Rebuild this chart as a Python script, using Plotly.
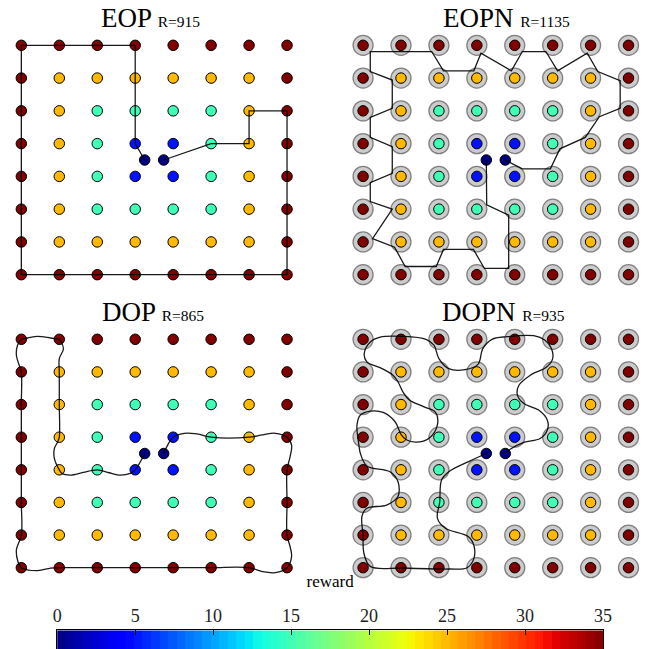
import numpy as np
import plotly.graph_objects as go

# ---------------- data ----------------
GRID_COLS = [0, 1, 2, 3, 4, 5, 6, 7]
GRID_ROWS = [0, 1, 2, 3, 4, 5, 6, 7]
REWARDS = [
    [35, 35, 35, 35, 35, 35, 35, 35],
    [35, 25, 25, 25, 25, 25, 25, 35],
    [35, 25, 15, 15, 15, 15, 25, 35],
    [35, 25, 15, 5, 5, 15, 25, 35],
    [35, 25, 15, 5, 5, 15, 25, 35],
    [35, 25, 15, 15, 15, 15, 25, 35],
    [35, 25, 25, 25, 25, 25, 25, 35],
    [35, 35, 35, 35, 35, 35, 35, 35],
]
START_END_X = [3.25, 3.75]
START_END_Y = [3.5, 3.5]
START_END_REWARD = [0, 0]

PANEL_NAMES = ["EOP", "EOPN", "DOP", "DOPN"]
PANEL_R = [915, 1135, 865, 935]
PANEL_NEIGHBORHOOD = [False, True, False, True]
PANEL_CURVED = [False, False, True, True]

EOP_PATH_X = [3.25, 3, 3, 3, 3, 2, 1, 0, 0, 0, 0, 0, 0, 0, 0, 1, 2, 3, 4, 5, 6, 7,
              7, 7, 7, 7, 7, 6, 6, 5, 3.75]
EOP_PATH_Y = [3.5, 3, 2, 1, 0, 0, 0, 0, 1, 2, 3, 4, 5, 6, 7, 7, 7, 7, 7, 7, 7, 7,
              6, 5, 4, 3, 2, 2, 3, 3, 3.5]

EOPN_PATH_X = [3.25, 3.26, 3.84, 3.84, 3.20, 2.91, 2.12, 1.93, 1.11, 0.83, 0.25, 0.77,
               0.19, 0.19, 0.77, 0.77, 0.19, 0.19, 0.77, 0.77, 0.19, 0.19, 1.81, 2.12,
               2.92, 3.11, 3.91, 4.20, 4.82, 5.13, 5.91, 6.19, 6.78, 6.78, 6.23, 5.86,
               5.19, 4.94, 4.20, 3.75]
EOPN_PATH_Y = [3.5, 4.87, 5.18, 6.81, 6.81, 6.23, 6.23, 6.75, 6.75, 6.16, 5.90, 5.0,
               4.77, 4.19, 3.91, 3.09, 2.81, 2.20, 1.92, 1.06, 0.80, 0.19, 0.19, 0.78,
               0.78, 0.24, 0.78, 0.19, 0.19, 0.78, 0.24, 0.80, 1.08, 1.92, 2.18, 2.81,
               3.16, 3.77, 3.77, 3.5]

DOP_PATH_X = [3.25, 3, 2.87, 2.57, 2.31, 2, 1.63, 1.29, 1.07, 1, 0.87, 0.87, 0.96, 1, 1, 1,
              1, 1.11, 1.04, 1, 0.77, 0.43, 0.17, 0, -0.1, -0.13, -0.04, 0, 0, 0, 0, 0, 0,
              -0.13, -0.09, 0, 0.43, 0.77, 1, 2, 3, 4, 5, 6, 6.35, 6.69, 7, 7.12, 7.08, 7, 7,
              7, 7.08, 7.12, 7, 6.69, 6.35, 6, 5, 4.63, 4.29, 4, 3.75]
DOP_PATH_Y = [3.5, 4, 4.11, 4.16, 4.09, 4, 4.08, 4.16, 4.11, 4, 3.65, 3.35, 3.14, 3, 2, 1,
              0.59, 0.29, 0.06, 0, -0.04, -0.09, -0.04, 0, 0.18, 0.49, 0.85, 1, 2, 3, 4, 5, 6,
              6.45, 6.81, 7, 7.09, 7.01, 7, 7, 7, 7, 7, 7, 7.12, 7.15, 7, 6.66, 6.35, 6, 5,
              4, 3.60, 3.24, 3, 2.88, 2.93, 3, 3, 2.90, 2.88, 3, 3.5]

DOPN_PATH_X = [3.25, 2.78, 2.26, 2.07, 2.02, 1.96, 2.17, 2.78, 2.93, 2.91, 2.73, 2.26, 1.05,
               0.19, 0.02, 0.0, -0.03, 0.10, 0.62, 0.92, 0.92, 0.71, 0.10, -0.07, -0.11,
               -0.16, -0.07, 0.19, 0.53, 0.84, 1.01, 1.14, 1.40, 1.74, 1.96, 1.91, 1.61,
               1.22, 1.05, 0.92, 0.79, 0.45, 0.10, 0.03, 0.19, 0.45, 1.05, 1.66, 1.87, 2.0,
               2.26, 2.69, 3.03, 3.16, 3.40, 3.80, 4.50, 4.80, 4.97, 5.0, 4.84, 4.41, 4.11,
               4.07, 4.24, 4.63, 4.86, 4.86, 4.67, 4.24, 3.89, 3.75]
DOPN_PATH_Y = [3.5, 3.75, 4.06, 4.31, 5.0, 5.48, 5.79, 6.05, 6.35, 6.76, 7.01, 7.04, 7.01,
               6.96, 6.55, 6.0, 5.43, 5.18, 5.08, 4.82, 4.36, 4.06, 3.88, 3.50, 3.24,
               2.62, 2.32, 2.20, 2.24, 2.52, 2.93, 3.08, 3.15, 3.03, 2.62, 2.24, 2.07,
               1.86, 1.61, 1.30, 1.10, 0.87, 0.69, 0.44, 0.08, -0.07, -0.09, 0.0, 0.18, 0.59,
               0.90, 0.93, 0.77, 0.28, 0.0, -0.08, -0.11, 0.03, 0.29, 0.59, 0.85, 1.10, 1.41,
               1.71, 1.97, 2.17, 2.48, 2.78, 3.04, 3.16, 3.36, 3.5]

PATHS_X = [EOP_PATH_X, EOPN_PATH_X, DOP_PATH_X, DOPN_PATH_X]
PATHS_Y = [EOP_PATH_Y, EOPN_PATH_Y, DOP_PATH_Y, DOPN_PATH_Y]

COLORBAR_TICKS = [0, 5, 10, 15, 20, 25, 30, 35]
REWARD_MIN, REWARD_MAX = 0, 35

# matplotlib "jet"
JET = [[0.0, "rgb(0,0,128)"], [0.11, "rgb(0,0,255)"], [0.125, "rgb(0,0,255)"],
       [0.34, "rgb(0,219,255)"], [0.35, "rgb(0,229,247)"], [0.375, "rgb(20,255,226)"],
       [0.64, "rgb(238,255,8)"], [0.65, "rgb(247,245,0)"], [0.66, "rgb(255,236,0)"],
       [0.89, "rgb(255,19,0)"], [0.91, "rgb(232,0,0)"], [1.0, "rgb(128,0,0)"]]

SERIF = "Liberation Serif, Times New Roman, serif"
W, H = 646, 649

# ---------------- figure ----------------
gx, gy = np.meshgrid(GRID_COLS, GRID_ROWS)
grid_x = gx.ravel().tolist()
grid_y = gy.ravel().tolist()
grid_r = np.array(REWARDS).ravel().tolist()

fig = go.Figure()

X_DOMAINS = [[0.00183, 0.47028], [0.54257, 0.99923], [0.00183, 0.47028], [0.54257, 0.99923]]
X_RANGES = [[-0.4, 7.4], [-0.4, 7.211], [-0.4, 7.4], [-0.4, 7.211]]
Y_DOMAINS = [[0.55655, 0.95039], [0.55655, 0.95039], [0.10516, 0.49730], [0.10516, 0.49730]]
TITLE_X = [149, 513, 151, 510]
TITLE_Y = [1, 1, 295, 295]

for i in range(4):
    xa = "x" if i == 0 else f"x{i+1}"
    ya = "y" if i == 0 else f"y{i+1}"
    if PANEL_NEIGHBORHOOD[i]:
        fig.add_trace(go.Scatter(
            x=grid_x, y=grid_y, xaxis=xa, yaxis=ya, mode="markers",
            marker=dict(size=20, color="rgb(204,204,204)",
                        line=dict(color="rgb(128,128,128)", width=1.3)),
            cliponaxis=False, showlegend=False, hoverinfo="skip"))
    fig.add_trace(go.Scatter(
        x=grid_x + START_END_X, y=grid_y + START_END_Y, xaxis=xa, yaxis=ya,
        mode="markers",
        marker=dict(size=10.5, color=grid_r + START_END_REWARD, coloraxis="coloraxis",
                    line=dict(color="black", width=1)),
        cliponaxis=False, showlegend=False))
    fig.add_trace(go.Scatter(
        x=PATHS_X[i], y=PATHS_Y[i], xaxis=xa, yaxis=ya, mode="lines",
        line=dict(color="rgba(0,0,0,0.9)", width=1.3,
                  shape="spline" if PANEL_CURVED[i] else "linear", smoothing=1.0),
        cliponaxis=False, showlegend=False, hoverinfo="skip"))

    axis_common = dict(showgrid=False, zeroline=False, showticklabels=False,
                       showline=False, ticks="")
    fig.layout[("xaxis" if i == 0 else f"xaxis{i+1}")] = dict(
        domain=X_DOMAINS[i], range=X_RANGES[i], anchor=ya, **axis_common)
    fig.layout[("yaxis" if i == 0 else f"yaxis{i+1}")] = dict(
        domain=Y_DOMAINS[i], range=[7.4, -0.4], anchor=xa, **axis_common)

    fig.add_annotation(
        x=TITLE_X[i] / W, y=1 - TITLE_Y[i] / H, xref="paper", yref="paper",
        xanchor="center", yanchor="top", showarrow=False,
        text=f"{PANEL_NAMES[i]} <span style='font-size:15.5px'>R={PANEL_R[i]}</span>",
        font=dict(family=SERIF, size=27, color="black"))

# colour bar as a heatmap strip
N_LEVELS = 64
step = (REWARD_MAX - REWARD_MIN) / N_LEVELS
cb_x = [REWARD_MIN + (k + 0.5) * step for k in range(N_LEVELS)]
fig.add_trace(go.Heatmap(
    x=cb_x, y=[0], z=[cb_x], coloraxis="coloraxis", xaxis="x5", yaxis="y5",
    hoverinfo="skip"))
fig.update_layout(
    xaxis5=dict(domain=[0.08251, 0.94628], range=[REWARD_MIN, REWARD_MAX], anchor="y5",
                side="top", ticks="inside", ticklen=5, tickwidth=1, tickcolor="black",
                tickvals=COLORBAR_TICKS, showline=True, linecolor="black", linewidth=1,
                showgrid=False, zeroline=False, ticklabelstandoff=0,
                tickfont=dict(family=SERIF, size=18, color="#222"),
                title=dict(text="reward", standoff=14,
                           font=dict(family=SERIF, size=17, color="black"))),
    yaxis5=dict(domain=[0, 0.0288], range=[-0.5, 0.5], anchor="x5", showline=True,
                mirror=True, linecolor="black", linewidth=1, showticklabels=False,
                ticks="", showgrid=False, zeroline=False),
)

fig.update_layout(
    width=W, height=H, autosize=False,
    margin=dict(l=0, r=0, t=0, b=0),
    paper_bgcolor="white", plot_bgcolor="white",
    coloraxis=dict(colorscale=JET, cmin=REWARD_MIN, cmax=REWARD_MAX, showscale=False),
    showlegend=False,
)

# remove the page's default body margin / scrollbars so the figure fills the window exactly
POST = ("document.documentElement.style.overflow='hidden';"
        "document.body.style.overflow='hidden';"
        "document.body.style.margin='0px';document.body.style.padding='0px';"
        "var gd=document.getElementById('{plot_id}');"
        "gd.style.width='%dpx';gd.style.height='%dpx';"
        "Plotly.relayout(gd,{width:%d,height:%d,autosize:false});" % (W, H, W, H))

fig.write_html("out.html",
               config={"responsive": False, "displayModeBar": False, "staticPlot": True},
               post_script=POST)
